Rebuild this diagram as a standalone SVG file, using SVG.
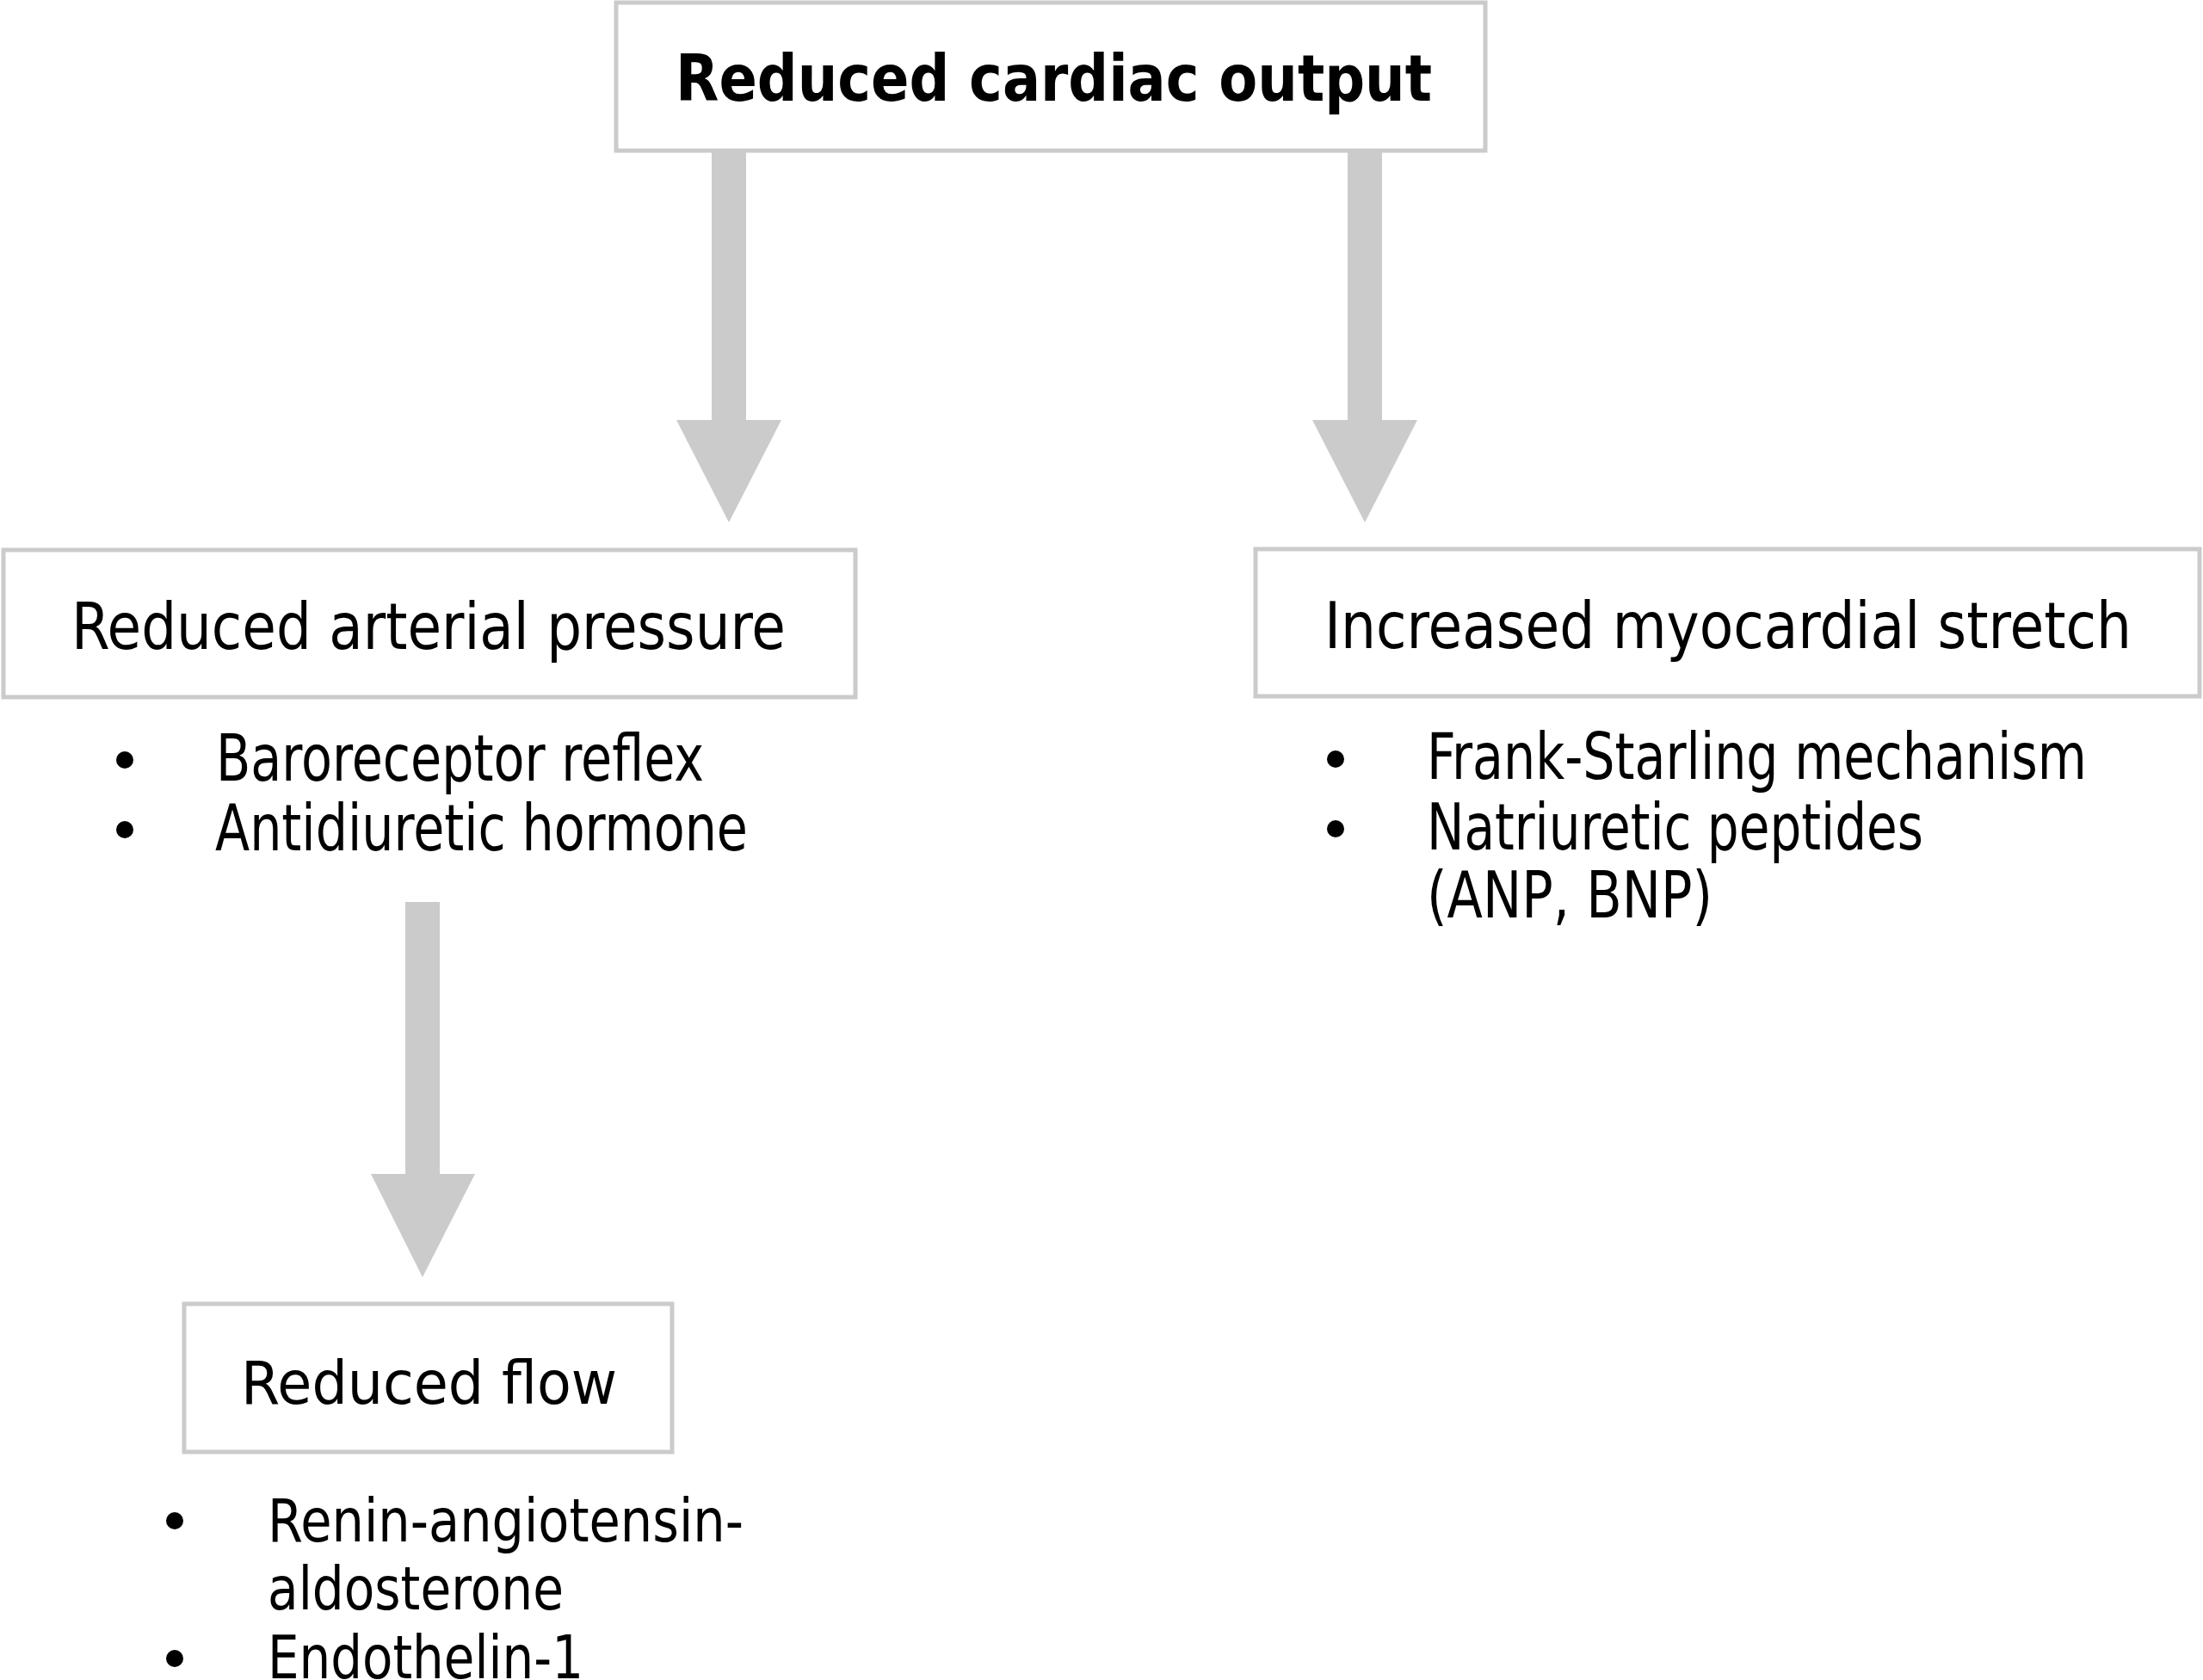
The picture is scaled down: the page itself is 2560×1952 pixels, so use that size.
<svg xmlns="http://www.w3.org/2000/svg" width="2560" height="1952" viewBox="0 0 2560 1952">
<style>
.box{fill:#ffffff;stroke:#cbcbcb;stroke-width:5}
.arrow{fill:#cccbcb;stroke:none}
.t{font-family:"DejaVu Sans Condensed","DejaVu Sans",sans-serif;font-size:75px;fill:#000000}
.tb{font-family:"DejaVu Sans Condensed","DejaVu Sans",sans-serif;font-size:74px;font-weight:bold;fill:#000000}
.v{font-family:"DejaVu Sans",sans-serif;font-size:70px;fill:#000000}
.dot{fill:#000000}
</style>
<rect width="2560" height="1952" fill="#ffffff"/>
<g id="connectors">
<path class="arrow" d="M827,175 H867 V488 H908 L847,607 L786,488 H827 Z"/>
<path class="arrow" d="M1566,175 H1606 V488 H1647 L1586,607 L1525,488 H1566 Z"/>
<path class="arrow" d="M471,1048 H511 V1364 H552 L491,1484 L431,1364 H471 Z"/>
</g>
<g id="node-cardiac-output">
<rect class="box" x="716" y="3" width="1010" height="172"/>
<text class="tb" x="785" y="117" textLength="879" lengthAdjust="spacingAndGlyphs">Reduced cardiac output</text>
</g>
<g id="node-arterial-pressure">
<rect class="box" x="4" y="639" width="990" height="171"/>
<text class="t" x="83" y="754" textLength="830" lengthAdjust="spacingAndGlyphs">Reduced arterial pressure</text>
</g>
<g id="list-arterial-pressure">
<circle class="dot" cx="145" cy="883" r="10"/>
<text class="t" x="251" y="907" textLength="567" lengthAdjust="spacingAndGlyphs">Baroreceptor reflex</text>
<circle class="dot" cx="145" cy="964" r="10"/>
<text class="t" x="250" y="988" textLength="619" lengthAdjust="spacingAndGlyphs">Antidiuretic hormone</text>
</g>
<g id="node-myocardial-stretch">
<rect class="box" x="1459" y="638" width="1097" height="171"/>
<text class="t" x="1539" y="753" textLength="938" lengthAdjust="spacingAndGlyphs">Increased myocardial stretch</text>
</g>
<g id="list-myocardial-stretch">
<circle class="dot" cx="1552" cy="882" r="10"/>
<text class="t" x="1658" y="905" textLength="767" lengthAdjust="spacingAndGlyphs">Frank-Starling mechanism</text>
<circle class="dot" cx="1552" cy="963" r="10"/>
<text class="t" x="1658" y="987" textLength="577" lengthAdjust="spacingAndGlyphs">Natriuretic peptides</text>
<text class="t" x="1658" y="1066" textLength="332" lengthAdjust="spacingAndGlyphs">(ANP, BNP)</text>
</g>
<g id="node-reduced-flow">
<rect class="box" x="214" y="1515" width="567" height="172"/>
<text class="v" x="280" y="1631" textLength="437" lengthAdjust="spacingAndGlyphs">Reduced flow</text>
</g>
<g id="list-reduced-flow">
<circle class="dot" cx="203" cy="1767" r="10"/>
<text class="v" x="311" y="1791" textLength="553" lengthAdjust="spacingAndGlyphs">Renin-angiotensin-</text>
<text class="v" x="311" y="1870" textLength="344" lengthAdjust="spacingAndGlyphs">aldosterone</text>
<circle class="dot" cx="203" cy="1927" r="10"/>
<text class="v" x="311" y="1950" textLength="367" lengthAdjust="spacingAndGlyphs">Endothelin-1</text>
</g>
</svg>
